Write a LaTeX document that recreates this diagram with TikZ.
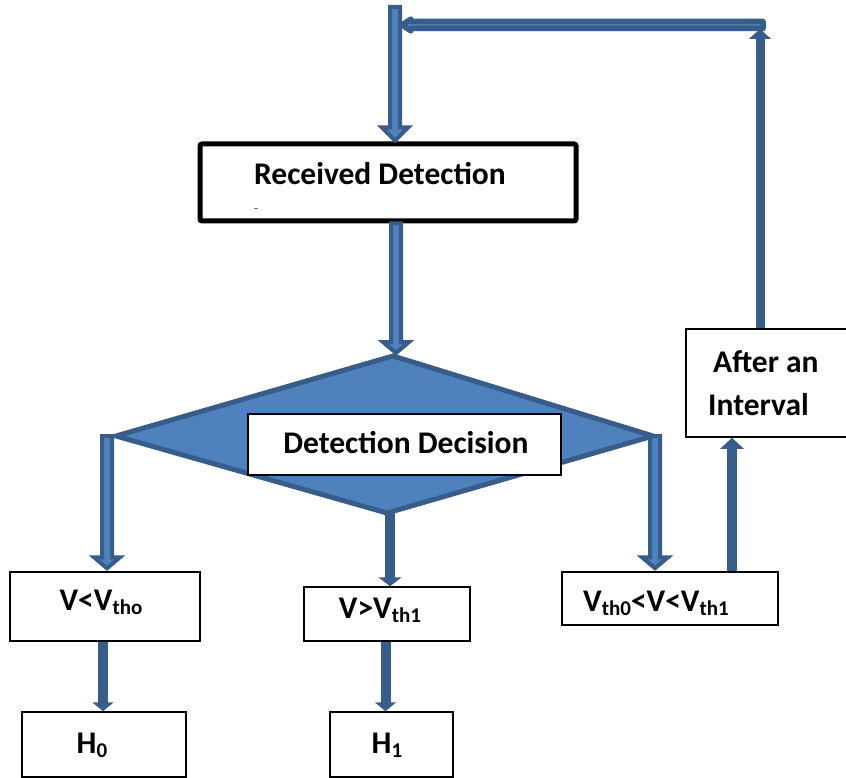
\documentclass[tikz,border=0pt]{standalone}
\usepackage{fontspec}
\setmainfont{Carlito}
\usetikzlibrary{calc,arrows.meta,fit}
\definecolor{flowdark}{HTML}{385D8A}
\definecolor{flowfill}{HTML}{4F81BD}

% lowered, smaller subscript text
\newcommand\lowsub[1]{\raisebox{-4pt}{\fontsize{21}{21}\selectfont #1}}

% block arrow: [style]{from}{to}{shaft half width}{head half width}{head length}
\newcommand\blkarrow[6][]{%
  \path (#2) coordinate (bkS) (#3) coordinate (bkE);
  \path ($(bkE)!#6!(bkS)$) coordinate (bkH);
  \draw[blockarrow,#1]
    ($(bkS)!#4!90:(bkE)$) -- ($(bkH)!#4!90:(bkE)$) -- ($(bkH)!#5!90:(bkE)$)
    -- (bkE) --
    ($(bkH)!#5!-90:(bkE)$) -- ($(bkH)!#4!-90:(bkE)$) -- ($(bkS)!#4!-90:(bkE)$) -- cycle;
}

\begin{document}
\begin{tikzpicture}[x=1pt,y=-1pt,
  lbl/.style={inner sep=0pt, anchor=base, font=\bfseries\fontsize{31.5}{38}\selectfont},
  plainbox/.style={draw=black, line width=1.5pt, fill=white, inner sep=0pt},
  heavybox/.style={draw=black, line width=5pt, rounded corners=2pt, fill=white, inner sep=0pt},
  blockarrow/.style={draw=flowdark, fill=flowfill, line width=4pt, line join=miter},
  solidarrow/.style={draw=flowdark, line width=10pt, -{Triangle[width=23pt,length=9pt]}},
]
\useasboundingbox (0,0) rectangle (846,778);

% ---- decision diamond ----
\coordinate (dT) at (393,356);
\coordinate (dR) at (653,436);
\coordinate (dB) at (387,513);
\coordinate (dL) at (116,436);
\draw[draw=flowdark, fill=flowfill, line width=5pt, line join=miter] (dT) -- (dR) -- (dB) -- (dL) -- cycle;

% ---- boxes ----
\node[heavybox, fit={(200,144) (576,221)}] (rd) {};
\node[plainbox, fit={(248,414) (561,475)}] (dd) {};
\node[plainbox, fit={(686,329) (852,437)}] (ai) {};
\node[plainbox, fit={(10,572) (200,641)}] (vlo) {};
\node[plainbox, fit={(304,587) (470,641)}] (vhi) {};
\node[plainbox, fit={(562,572) (778,625)}] (vmid) {};
\node[plainbox, fit={(22,712) (186,777)}] (hz) {};
\node[plainbox, fit={(330,712) (453,777)}] (ho) {};

% ---- texts ----
\node[lbl] (rdt) at (380,185) {Received Detection};
\draw[gray, line width=1pt] (254,209) -- (258,209);
\node[lbl] (ddt) at (406,453) {Detection Decision};
\node[lbl, anchor=base west] (ait1) at (713,372) {After an};
\node[lbl, anchor=base west] (ait2) at (708,415) {Interval};
\node[lbl] (vlot) at (101,610) {V<V\lowsub{tho}};
\node[lbl] (vhit) at (380,618) {V>V\lowsub{th1}};
\node[lbl] (vmidt) at (656,611) {V\lowsub{th0}<V<V\lowsub{th1}};
\node[lbl] (hzt) at (92,753) {H\lowsub{0}};
\node[lbl] (hot) at (387,753) {H\lowsub{1}};

% ---- columns of the connectors ----
\coordinate (cIn) at (395,7);
\coordinate (cMain) at (396,0);
\coordinate (cLeft) at (107,0);
\coordinate (cRight) at (655,0);
\coordinate (cMid) at (390,0);
\coordinate (cBack) at (732,0);
\coordinate (cLoop) at (760,0);
\coordinate (cHz) at (103,0);
\coordinate (cHo) at (385.5,0);
\coordinate (loopCorner) at (763,25);
\coordinate (loopEnd) at (402,25);

% ---- block connectors ----
\blkarrow{cIn}{$(cIn |- rd.north)+(0,-1)$}{5pt}{13pt}{13pt}
\blkarrow{cMain |- rd.south}{$(cMain |- dT)+(0,-3)$}{5pt}{13pt}{11pt}
\blkarrow{cLeft |- dL}{$(cLeft |- vlo.north)+(0,-3)$}{5pt}{13pt}{11pt}
\blkarrow{cRight |- dR}{$(cRight |- vmid.north)+(0,-3)$}{5pt}{13pt}{11pt}

% ---- solid connectors ----
\draw[solidarrow] (cMid |- dB) -- (cMid |- vhi.north);
\draw[solidarrow, -{Triangle[width=21pt,length=9pt]}] (cHz |- vlo.south) -- (cHz |- hz.north);
\draw[solidarrow, -{Triangle[width=21pt,length=9pt]}] (cHo |- vhi.south) -- (cHo |- ho.north);
\draw[solidarrow, -{Triangle[width=23pt,length=11pt]}] (cBack |- vmid.north) -- (cBack |- ai.south);
\draw[solidarrow, line width=9pt, -{Triangle[width=22pt,length=10pt]}] (cLoop |- ai.north) -- ($(cLoop |- loopCorner)+(0,4)$);

% return line along the top
\blkarrow[line width=5.5pt, line join=round]{loopCorner}{loopEnd}{3.5pt}{6pt}{9pt}

\end{tikzpicture}
\end{document}
